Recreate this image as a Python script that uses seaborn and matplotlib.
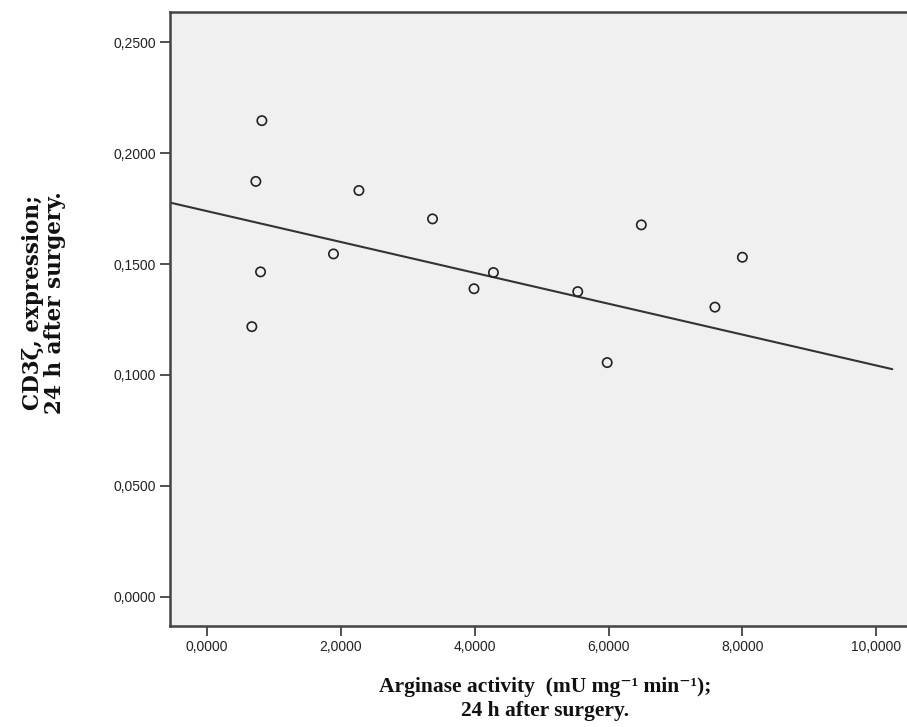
import matplotlib
matplotlib.use("Agg")
import matplotlib.pyplot as plt
import matplotlib.ticker as mticker
import numpy as np
import pandas as pd
import seaborn as sns

# Arginase activity vs CD3 zeta expression, 24 h after surgery
arginase = [0.82, 0.73, 2.27, 3.37, 1.89, 0.80, 4.28, 3.99, 0.67,
            5.54, 5.98, 6.49, 7.59, 8.00]
cd3z = [0.2147, 0.1873, 0.1832, 0.1704, 0.1546, 0.1465, 0.1462, 0.1389, 0.1218,
        0.1376, 0.1056, 0.1677, 0.1306, 0.1531]
x_ticks = [0, 2, 4, 6, 8, 10]
y_ticks = [0, 0.05, 0.10, 0.15, 0.20, 0.25]

# fit line as printed in the figure
fit_intercept = 0.1739
fit_slope = -0.00696
fit_range = [-0.55, 10.24]

df = pd.DataFrame({"arginase": arginase, "cd3z": cd3z})

sns.set_style("white")
plt.rcParams["font.family"] = ["Liberation Sans", "DejaVu Sans"]

fig = plt.figure(figsize=(9.07, 7.27), dpi=100)
ax = fig.add_axes([170 / 907, 101 / 727, 737 / 907, 614 / 727])
ax.set_facecolor("#f0f0f0")

sns.scatterplot(data=df, x="arginase", y="cd3z", ax=ax, s=45,
                facecolor="none", edgecolor="#222222", linewidth=1.2, zorder=3)

xs = np.array(fit_range)
ax.plot(xs, fit_intercept + fit_slope * xs, color="#333333", lw=1.5, zorder=2)

ax.set_xlim(-0.553, 10.46)
ax.set_ylim(-0.0132, 0.2637)
ax.set_xticks(x_ticks)
ax.set_yticks(y_ticks)
comma = mticker.FuncFormatter(lambda v, p: f"{v:.4f}".replace(".", ","))
ax.xaxis.set_major_formatter(comma)
ax.yaxis.set_major_formatter(comma)
ax.tick_params(axis="both", direction="out", length=7, width=1.2,
               color="#333333", labelsize=10, labelcolor="#222222", pad=3)
ax.tick_params(left=True, bottom=True)

for side in ["left", "top", "bottom"]:
    ax.spines[side].set_color("#444444")
    ax.spines[side].set_linewidth(1.8)
ax.spines["right"].set_visible(False)

ax.set_xlabel("Arginase activity  (mU mg\u207b\u00b9 min\u207b\u00b9);\n24 h after surgery.",
              family=["Liberation Serif", "DejaVu Serif"], fontweight="bold",
              fontsize=15.5, color="#111111", linespacing=1.25)
ax.set_ylabel("CD3\u03b6, expression;\n24 h after surgery.",
              family=["DejaVu Serif"], fontweight="bold",
              fontsize=15.5, color="#111111", linespacing=1.0)
ax.xaxis.set_label_coords((545 - 170) / 737, -(677 - 626) / 614)
ax.yaxis.set_label_coords(-(170 - 66) / 737, (626 - 303) / 614)

fig.savefig("out.png", dpi=100)
